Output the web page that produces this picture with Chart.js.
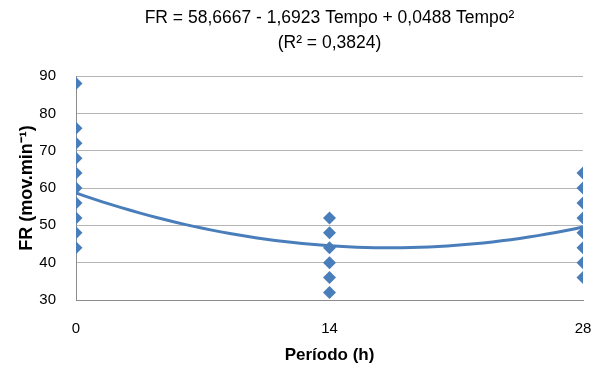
<!DOCTYPE html>
<html>
<head>
<meta charset="utf-8">
<script src="https://cdn.jsdelivr.net/npm/chart.js@4"></script>
<style>
  html, body { margin: 0; padding: 0; background: #fff; }
  #wrap { width: 594px; height: 373px; }
</style>
</head>
<body>
<div id="wrap"><canvas id="grafico" width="594" height="373"></canvas></div>
<script>
// periodos (h) e valores de FR observados
const periodos = [0, 14, 28];
const fr0  = [88, 76, 72, 68, 64, 60, 56, 52, 48, 44];
const fr14 = [52, 48, 44, 40, 36, 32];
const fr28 = [64, 60, 56, 52, 48, 44, 40, 36];
const yTicks = [30, 40, 50, 60, 70, 80, 90];

// coeficientes da regressao (do titulo)
const b0 = 58.6667, b1 = -1.6923, b2 = 0.0488;

const titulo = ['FR = 58,6667 - 1,6923 Tempo + 0,0488 Tempo\u00B2', '(R\u00B2 = 0,3824)'];

const azul = '#4a7ebb';
const fonte = 'Liberation Sans, Arial, sans-serif';

const pontos = [];
fr0.forEach(v => pontos.push({x: periodos[0], y: v}));
fr14.forEach(v => pontos.push({x: periodos[1], y: v}));
fr28.forEach(v => pontos.push({x: periodos[2], y: v}));

const curva = [];
for (let t = 0; t <= 28; t += 0.5) {
    curva.push({x: t, y: b0 + b1 * t + b2 * t * t});
}

const ctx = document.getElementById('grafico').getContext('2d');
const grafico = new Chart(ctx, {
    type: 'scatter',
    data: {
        datasets: [{
            data: pontos,
            pointStyle: 'rectRot',
            pointRadius: 6.5,
            pointBackgroundColor: azul,
            pointBorderColor: azul,
            pointBorderWidth: 0,
            order: 1
        }, {
            data: curva,
            showLine: true,
            pointRadius: 0,
            borderColor: azul,
            borderWidth: 3,
            fill: false,
            order: 2
        }]
    },
    options: {
        responsive: false,
        animation: false,
        layout: { padding: { left: 0, right: 11, top: 0, bottom: 0 } },
        plugins: {
            legend: { display: false },
            tooltip: { enabled: false },
            title: {
                display: true,
                fullSize: false,   // centrado sobre a area do grafico
                text: titulo,
                color: '#000',
                font: { family: fonte, size: 17.5, weight: 'normal', lineHeight: 1.43 },
                padding: { top: 6, bottom: 20 }
            }
        },
        scales: {
            x: {
                type: 'linear',
                min: 0, max: 28,
                afterBuildTicks: axis => { axis.ticks = periodos.map(v => ({value: v})); },
                afterFit: s => { s.height = 73; },
                grid: { display: true, drawOnChartArea: false, drawTicks: true, tickLength: 18, color: 'rgba(0,0,0,0)' },
                border: { color: '#8c8c8c' },
                ticks: { color: '#000', padding: 2, font: { family: fonte, size: 15 } },
                title: {
                    display: true, text: 'Período (h)', color: '#000',
                    font: { family: fonte, size: 17, weight: 'bold' },
                    padding: { top: 0, bottom: 7 }
                }
            },
            y: {
                min: 30, max: 90,
                afterBuildTicks: axis => { axis.ticks = yTicks.map(v => ({value: v})); },
                afterFit: s => { s.width = 76; },
                grid: { color: '#b5b5b5', drawTicks: false },
                border: { color: '#8c8c8c' },
                ticks: { color: '#000', padding: 20, font: { family: fonte, size: 15 } },
                title: {
                    display: true, text: 'FR (mov.min\u207B\u00B9)', color: '#000',
                    font: { family: fonte, size: 18, weight: 'bold' },
                    padding: { top: 16.5, bottom: 0 }
                }
            }
        }
    }
});
</script>
</body>
</html>
